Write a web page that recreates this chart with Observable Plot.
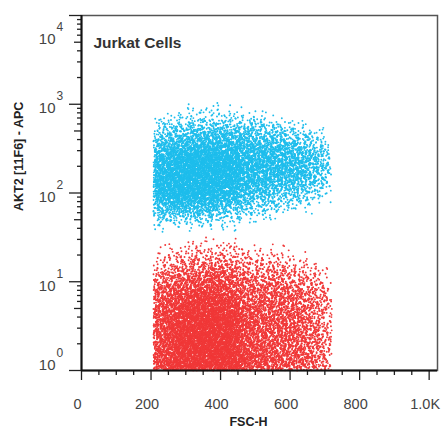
<!DOCTYPE html>
<html><head><meta charset="utf-8">
<script src="https://cdn.jsdelivr.net/npm/d3@7"></script>
<script src="https://cdn.jsdelivr.net/npm/@observablehq/plot@0.6"></script>
<style>body{margin:0;background:#fff}#chart{width:442px;height:436px}</style>
</head><body><div id="chart"></div>
<script>
// FSC-H bins (lower edges), width 50
const xBinStarts = [200,250,300,350,400,450,500,550,600,650,700];
const xBinWidth = 50;
// log10 row lower edges, 0.1 decade tall
const rowHeight = 0.1;
const blueRowStarts = [2.9,2.8,2.7,2.6,2.5,2.4,2.3,2.2,2.1,2.0,1.9,1.8,1.7,1.6];
const blueDensity = [
  [0,0,0.3,0.3,0.3,0,0,0,0,0,0],
  [0.3,0.5,0.7,0.7,0.7,0.5,0.5,0,0,0,0],
  [1,1.5,2,2,2,2,1.5,1,0.5,0,0],
  [2,3,4,4,4,3.5,2.5,2.5,1.5,0.8,0],
  [3,5,6,6,6,4.5,4,3.5,2.5,1.5,0],
  [5,7,8,8,7,6,5,5,4,2.5,0.7],
  [7,9,10,10,9,7,6,6,5,3,0.7],
  [8,10,10,10,10,7,6,6,5,3,0.7],
  [8,10,10,10,9,6,5,5,4,2.5,0.7],
  [7,9,10,9,8,5,4,3,2.5,1.5,0],
  [6,8,8,7,6,3.5,2.5,1.5,1.5,0.7,0],
  [4,5,5,5,3,2,1.5,1,0.7,0,0],
  [2,2,2,2,1,1,0.7,0,0,0,0],
  [0.5,0.5,0.5,0.5,0.5,0,0,0,0,0,0]
];
const redRowStarts = [1.4,1.3,1.2,1.1,1.0,0.9,0.8,0.7,0.6,0.5,0.4,0.3,0.2,0.1,0.0];
const redDensity = [
  [0,0,0.2,0.3,0.2,0,0,0,0,0,0],
  [0.2,0.5,0.7,0.7,0.7,0.5,0.3,0.2,0,0,0],
  [0.7,1,1.5,1.5,1.5,1,0.8,0.6,0.4,0,0],
  [1,2,2,3,3,1.5,1.5,1.5,0.8,0.6,0],
  [2,3,4,4,4,2.5,2.2,2.2,1.5,0.8,0],
  [3,4,5,6,5,3,3,3,2.2,1.5,0],
  [4,5,7,7,6,3.5,3.5,3.5,3,2,0.6],
  [4,6,8,8,7,4,3.5,3.5,3,2,0.6],
  [5,7,9,9,8,4.5,4,3.5,3.5,2,0.6],
  [5,7,9,10,9,5,4,4,3.5,2,0.6],
  [5,8,10,10,9,5,4,4,3.5,2.5,0.6],
  [5,8,10,10,10,5,4,4,3.5,2.5,0.6],
  [6,8,10,10,10,5,4,4,3.5,2.5,0.6],
  [6,8,10,10,10,6,5,4,4,2.5,0.6],
  [6,9,10,10,10,6,5,4,4,2.5,0.6]
];
const xMajorTicks = [0,200,400,600,800,1000];
const xTickLabels = ["0","200","400","600","800","1.0K"];
const xMinorTicks = [50,100,150,250,300,350,450,500,550,650,700,750,850,900,950];
const yDecades = [1,10,100,1000,10000];
const yExponents = ["0","1","2","3","4"];
const yMidTicks = [5,50,500,5000];
const yMinorTicks = yDecades.slice(0,4).flatMap(d => [2,3,4,6,7,8,9].map(m => m*d));
const title = "Jurkat Cells";
const xTitle = "FSC-H";
const yTitle = "AKT2 [11F6] - APC";
const blueColor = "#1ebdec";
const redColor = "#f03838";

// stipple each density cell with a deterministic low-discrepancy pattern
function halton(i, b){ let f=1, r=0; while(i>0){ f/=b; r+=f*(i%b); i=Math.floor(i/b);} return r; }
function cloud(rowStarts, density){
  const pts=[]; let k=1;
  density.forEach((row,ri)=>row.forEach((d,ci)=>{
    const n=Math.round(d*22);
    for(let j=0;j<n;j++,k++){
      const u=halton(k,2)+halton(k,5)-1, v=halton(k,3)+halton(k,7)-1;
      const x = xBinStarts[ci] + xBinWidth*(0.5 + u);
      const ly = rowStarts[ri] + rowHeight*(0.5 + v);
      if (x<207 || x>720 || ly<0) continue;
      pts.push({x, y: Math.pow(10, ly)});
    }
  }));
  return pts;
}
const bluePts = cloud(blueRowStarts, blueDensity);
const redPts = cloud(redRowStarts, redDensity);

const axisStyle = {tickFormat: () => "", label: null, stroke: "#222", strokeWidth: 1.3};
const labelDy = d => d === 1 ? -5 : d === 10000 ? 24 : 4;

const chart = Plot.plot({
  width: 442, height: 436,
  marginLeft: 81, marginRight: 5, marginTop: 15, marginBottom: 66,
  style: {fontFamily: "'Liberation Sans', Arial, sans-serif", background: "#fff"},
  x: {domain: [0, 1024]},
  y: {type: "log", domain: [1, 10000]},
  marks: [
    Plot.frame({stroke: "#555", strokeWidth: 1.5}),
    Plot.dot(bluePts, {x: "x", y: "y", r: 0.95, fill: blueColor, stroke: null}),
    Plot.dot(redPts, {x: "x", y: "y", r: 0.95, fill: redColor, stroke: null}),
    Plot.axisX({...axisStyle, ticks: xMajorTicks, tickSize: 10}),
    Plot.axisX({...axisStyle, ticks: xMinorTicks, tickSize: 5}),
    Plot.axisY({...axisStyle, ticks: yDecades, tickSize: 12}),
    Plot.axisY({...axisStyle, ticks: yMidTicks, tickSize: 7}),
    Plot.axisY({...axisStyle, ticks: yMinorTicks, tickSize: 4}),
    Plot.ruleY([1], {stroke: "#111", strokeWidth: 2}),
    Plot.ruleX([0], {stroke: "#111", strokeWidth: 2}),
    Plot.text(xMajorTicks, {x: d => d, frameAnchor: "bottom", dy: 38, dx: -4, text: (d,i) => xTickLabels[i], fontSize: 14.5, fill: "#444"}),
    ...yDecades.map((d,i) => Plot.text([d], {y: d => d, frameAnchor: "left", dx: -26, dy: labelDy(d), textAnchor: "end", text: () => "10", fontSize: 15, fill: "#444"})),
    ...yDecades.map((d,i) => Plot.text([d], {y: d => d, frameAnchor: "left", dx: -25, dy: labelDy(d) - 12, textAnchor: "start", text: () => yExponents[i], fontSize: 12, fill: "#444"})),
    Plot.text([yTitle], {text: d => d, frameAnchor: "left", dx: -63, dy: 18, rotate: -90, fontWeight: "bold", fontSize: 12.5, fill: "#222"}),
    Plot.text([xTitle], {text: d => d, frameAnchor: "bottom", dx: -11, dy: 55, fontWeight: "bold", fontSize: 12.5, fill: "#222"}),
    Plot.text([title], {text: d => d, frameAnchor: "top-left", dx: 12, dy: 21.5, textAnchor: "start", fontWeight: "bold", fontSize: 15.5, fill: "#333"})
  ]
});
document.getElementById("chart").appendChild(chart);
</script>
</body></html>
